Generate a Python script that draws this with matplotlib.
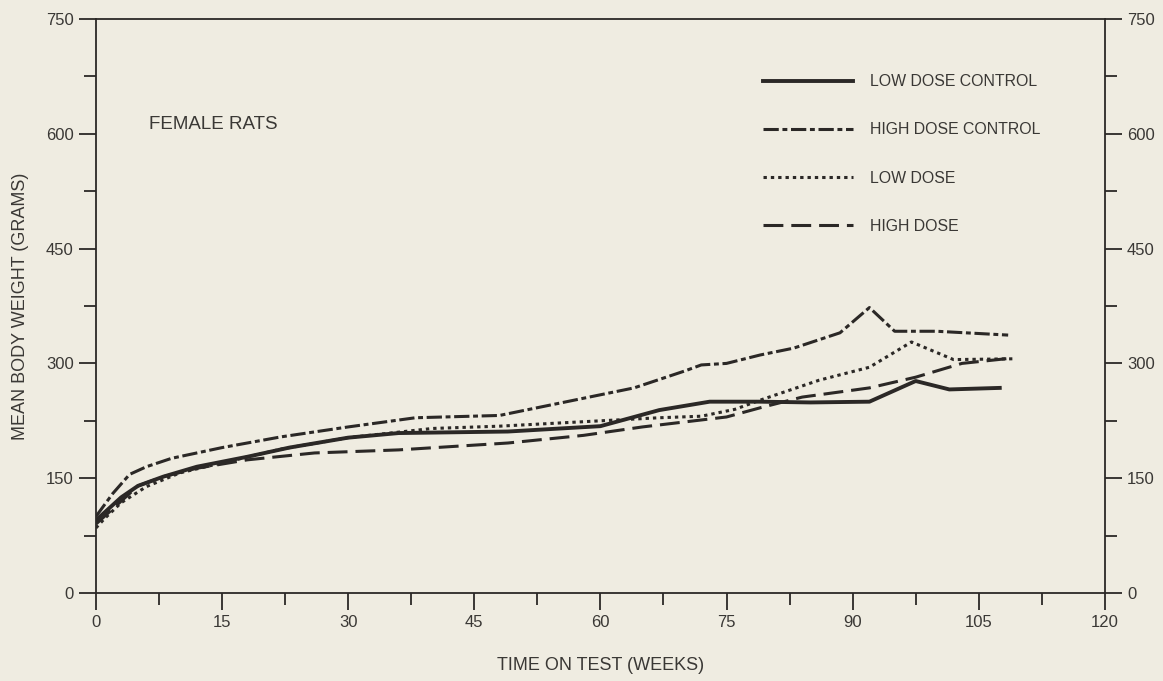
import matplotlib
matplotlib.use("Agg")
import matplotlib.pyplot as plt
from matplotlib.ticker import MultipleLocator

plt.rcParams['font.family'] = ['Liberation Sans', 'DejaVu Sans']

# weeks / mean body weight (grams)
ldc_wk = [0, 3, 5, 8, 12, 18, 23, 30, 36, 49, 60, 62, 67, 73, 79, 85, 92, 97.5, 101.5, 107.5]
ldc_g = [95, 125, 140, 152, 165, 178, 190, 203, 209, 211, 218, 224, 239, 250, 250, 249, 250, 277, 266, 268]

hdc_wk = [0, 2, 4, 6, 9, 15, 22, 30, 38, 48, 56, 64, 70, 72, 75, 79, 83, 88.5, 92, 95, 100, 108.5]
hdc_g = [100, 130, 155, 165, 176, 190, 204, 217, 229, 232, 250, 268, 290, 298, 300, 311, 320, 340, 373, 342, 342, 337]

ld_wk = [0, 1, 3, 6, 10, 15, 22, 30, 40, 48, 60, 67, 72, 76, 79, 86, 92, 97, 102, 109]
ld_g = [85, 97, 118, 139, 157, 170, 188, 203, 215, 218, 225, 229, 231, 240, 252, 278, 295, 328, 305, 306]

hd_wk = [0, 2, 5, 8, 12, 18, 26, 36, 49, 58, 65, 75, 79, 84, 92, 97.5, 103, 109]
hd_g = [90, 110, 140, 152, 163, 174, 183, 187, 196, 206, 217, 230, 242, 256, 268, 282, 300, 307]

bg = '#efece1'
ink = '#2b2826'
txt = '#3a3835'

fig = plt.figure(figsize=(11.63, 6.81), dpi=100, facecolor=bg)
ax = fig.add_axes([0.0825, 0.1292, 0.8675, 0.8429], facecolor=bg)

lw = 2.2
ax.plot(ldc_wk, ldc_g, color=ink, lw=lw + 0.6, label='LOW DOSE CONTROL')
ax.plot(hdc_wk, hdc_g, color=ink, lw=lw, dashes=(5, 1.2, 1.6, 1.2),
        dash_capstyle='butt', label='HIGH DOSE CONTROL')
ax.plot(ld_wk, ld_g, color=ink, lw=lw, dashes=(1.1, 1.3),
        dash_capstyle='butt', label='LOW DOSE')
ax.plot(hd_wk, hd_g, color=ink, lw=lw, dashes=(6.5, 2.6),
        dash_capstyle='butt', label='HIGH DOSE')

ax.set_xlim(0, 120)
ax.set_ylim(0, 750)
ax.xaxis.set_major_locator(MultipleLocator(15))
ax.xaxis.set_minor_locator(MultipleLocator(7.5))
ax.yaxis.set_major_locator(MultipleLocator(150))
ax.yaxis.set_minor_locator(MultipleLocator(75))

ax.tick_params(which='both', direction='out', colors=ink, labelcolor=txt,
               labelsize=12, width=1.3, left=True, right=True,
               labelright=True, top=False, pad=4)
ax.tick_params(which='major', length=12)
ax.tick_params(which='minor', length=8.5)
for s in ax.spines.values():
    s.set_color(ink)
    s.set_linewidth(1.3)

ax.set_xlabel('TIME ON TEST (WEEKS)', fontsize=13, color=txt, labelpad=19)
ax.set_ylabel('MEAN BODY WEIGHT (GRAMS)', fontsize=13, color=txt, labelpad=12)

ax.text(0.053, 0.816, 'FEMALE RATS', transform=ax.transAxes, fontsize=13.5,
        color=txt, va='center', ha='left')

leg = ax.legend(loc='upper left', bbox_to_anchor=(0.661, 0.904), frameon=False,
                fontsize=11.4, handlelength=5.7, handletextpad=1.1,
                labelspacing=2.1, borderpad=0, borderaxespad=0)
for t in leg.get_texts():
    t.set_color(txt)

fig.savefig('out.png', dpi=100, facecolor=bg)
